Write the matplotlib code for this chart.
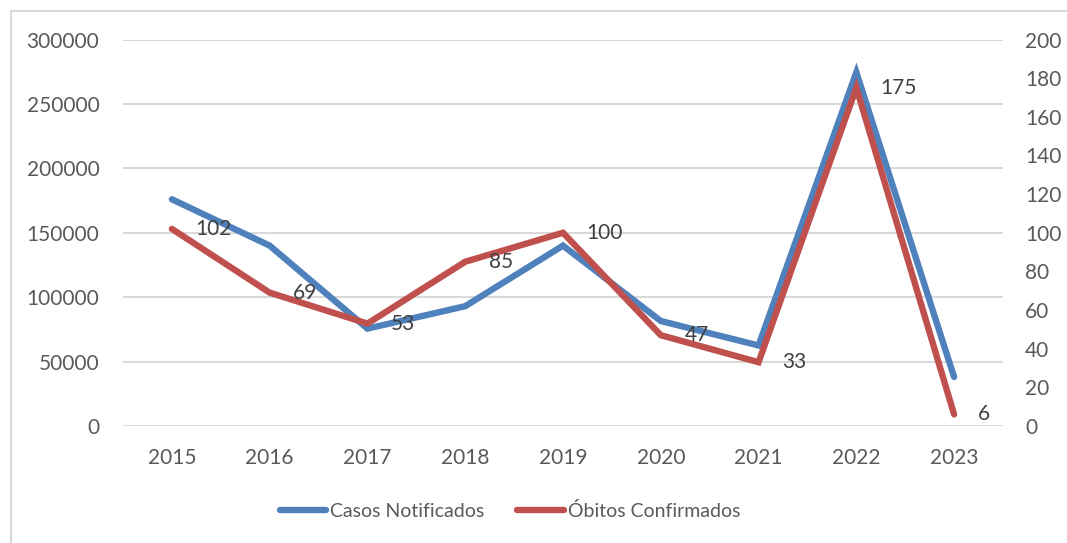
# Casos notificados x Óbitos confirmados, 2015-2023
import matplotlib.pyplot as plt
from matplotlib.patches import Rectangle

plt.rcParams['font.family'] = ['Lato', 'DejaVu Sans']

anos = ['2015', '2016', '2017', '2018', '2019', '2020', '2021', '2022', '2023']
casos = [176000, 140000, 75600, 93000, 140000, 81500, 62500, 274500, 38000]
obitos = [102, 69, 53, 85, 100, 47, 33, 175, 6]

azul = '#4F81BD'
vermelho = '#C0504D'
cinza = '#595959'
fs = 15

fig = plt.figure(figsize=(10.67, 5.43), dpi=100)
ax = fig.add_axes([123 / 1067, 1 - 426 / 543, 880 / 1067, 386.5 / 543])
ax2 = ax.twinx()

x = list(range(len(anos)))
ax.plot(x, casos, color=azul, lw=4.6, solid_capstyle='round', solid_joinstyle='miter',
        label='Casos Notificados')
ax2.plot(x, obitos, color=vermelho, lw=4.6, solid_capstyle='round', solid_joinstyle='miter',
         label='Óbitos Confirmados')

for xi, v in zip(x, obitos):
    ax2.annotate(str(v), (xi, v), xytext=(17, 0), textcoords='offset points',
                 ha='left', va='center', fontsize=fs, color='#404040')

ax.set_xlim(-0.5, len(anos) - 0.5)
ax.set_ylim(0, 300000)
ax2.set_ylim(0, 200)
ax.set_yticks(range(0, 300001, 50000))
ax2.set_yticks(range(0, 201, 20))
ax.set_xticks(x)
ax.set_xticklabels(anos)

ax.grid(axis='y', color='#D9D9D9', lw=1.5)
ax.set_axisbelow(True)
for a in (ax, ax2):
    for s in a.spines.values():
        s.set_visible(False)
    a.tick_params(length=0, labelsize=fs, colors=cinza)
ax.tick_params(axis='y', pad=17)
ax.tick_params(axis='x', pad=16)
ax2.tick_params(axis='y', pad=16)

h1, l1 = ax.get_legend_handles_labels()
h2, l2 = ax2.get_legend_handles_labels()
fig.legend(h1 + h2, l1 + l2, loc='center', bbox_to_anchor=(510 / 1067, 1 - 511 / 543),
           ncol=2, frameon=False, fontsize=14, labelcolor=cinza,
           handlelength=2.4, handletextpad=0.2, columnspacing=1.7)

fig.patches.append(Rectangle((11 / 1067, -0.1), 1.2, 1 - 11 / 543 + 0.1,
                             transform=fig.transFigure, fill=False,
                             edgecolor='#D9D9D9', lw=1.5))

fig.savefig('out.png', dpi=100)
